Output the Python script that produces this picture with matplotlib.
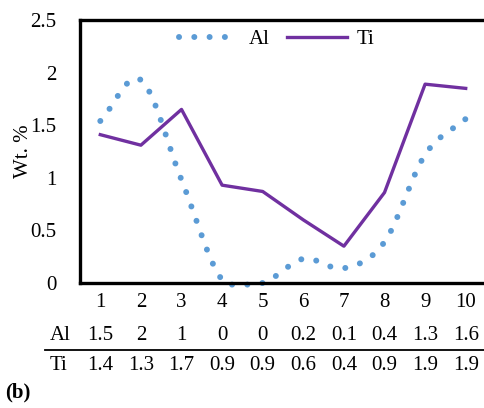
import numpy as np
import matplotlib
matplotlib.use("Agg")
import matplotlib.pyplot as plt
import matplotlib.transforms as mtransforms

samples = [1, 2, 3, 4, 5, 6, 7, 8, 9, 10]
al_values = [1.54, 1.93, 0.98, 0.03, 0.0, 0.23, 0.14, 0.39, 1.22, 1.56]
ti_values = [1.41, 1.31, 1.65, 0.93, 0.87, 0.60, 0.35, 0.86, 1.89, 1.85]
al_table = ["1.5", "2", "1", "0", "0", "0.2", "0.1", "0.4", "1.3", "1.6"]
ti_table = ["1.4", "1.3", "1.7", "0.9", "0.9", "0.6", "0.4", "0.9", "1.9", "1.9"]
y_ticks = [0, 0.5, 1, 1.5, 2, 2.5]
y_tick_labels = ["0", "0.5", "1", "1.5", "2", "2.5"]

plt.rcParams['font.family'] = ['Liberation Serif', 'DejaVu Serif']
FS = 15


def smooth(x, y, n=30):
    x = np.asarray(x, float)
    y = np.asarray(y, float)
    px = np.concatenate([[2 * x[0] - x[1]], x, [2 * x[-1] - x[-2]]])
    py = np.concatenate([[2 * y[0] - y[1]], y, [2 * y[-1] - y[-2]]])
    xs, ys = [], []
    for i in range(1, len(px) - 2):
        t = np.linspace(0, 1, n, endpoint=False)
        p0, p1, p2, p3 = [np.array([px[j], py[j]]) for j in range(i - 1, i + 3)]
        c1 = p1 + (p2 - p0) / 6
        c2 = p2 - (p3 - p1) / 6
        pts = ((1 - t) ** 3)[:, None] * p1 + (3 * (1 - t) ** 2 * t)[:, None] * c1 \
            + (3 * (1 - t) * t ** 2)[:, None] * c2 + (t ** 3)[:, None] * p2
        xs.extend(pts[:, 0]); ys.extend(pts[:, 1])
    xs.append(x[-1]); ys.append(y[-1])
    return np.array(xs), np.array(ys)


fig = plt.figure(figsize=(4.85, 4.08), dpi=100)
ax = fig.add_axes([80 / 485, (408 - 283) / 408, 406 / 485, 263 / 408])

sx, sy = smooth(samples, al_values)
sy = np.maximum(sy, -0.015)
ax.plot(sx, sy, color="#5B9BD5", lw=4.3, linestyle=(0, (0.01, 2.55)),
        dash_capstyle="round", label="Al", clip_on=False)
ax.plot(samples, ti_values, color="#7030A0", lw=2.4, label="Ti")

ax.set_xlim(0.5, 10.5)
ax.set_ylim(0, 2.5)
ax.set_yticks(y_ticks)
ax.set_yticklabels(y_tick_labels, fontsize=FS)
ax.set_xticks(samples)
ax.set_xticklabels([str(s) for s in samples], fontsize=FS)
ax.tick_params(axis="y", length=0, pad=17)
ax.tick_params(axis="x", length=0, pad=7)
for sp in ax.spines.values():
    sp.set_linewidth(2.4)
    sp.set_color("black")

leg = ax.legend(loc="upper center", ncol=2, frameon=False, fontsize=FS,
                bbox_to_anchor=(0.485, 1.035), handlelength=2.9, columnspacing=0.8,
                handletextpad=0.45)

trans = mtransforms.blended_transform_factory(ax.transData, fig.transFigure)
for s, a, t in zip(samples, al_table, ti_table):
    ax.text(s, 1 - 335 / 408, a, transform=trans, ha="center", va="center", fontsize=FS)
    ax.text(s, 1 - 365 / 408, t, transform=trans, ha="center", va="center", fontsize=FS)
fig.text(60 / 485, 1 - 335 / 408, "Al", ha="center", va="center", fontsize=FS)
fig.text(59 / 485, 1 - 365 / 408, "Ti", ha="center", va="center", fontsize=FS)
fig.add_artist(plt.Line2D([45 / 485, 1.0], [1 - 350 / 408, 1 - 350 / 408],
                          transform=fig.transFigure, color="black", lw=1.3))
fig.text(24 / 485, 1 - 151 / 408, "Wt. %", rotation=90, ha="center", va="center",
         fontsize=FS)
fig.text(5 / 485, 1 - 392 / 408, "(b)", ha="left", va="center", fontsize=FS,
         fontweight="bold")

fig.savefig("out.png", dpi=100)
